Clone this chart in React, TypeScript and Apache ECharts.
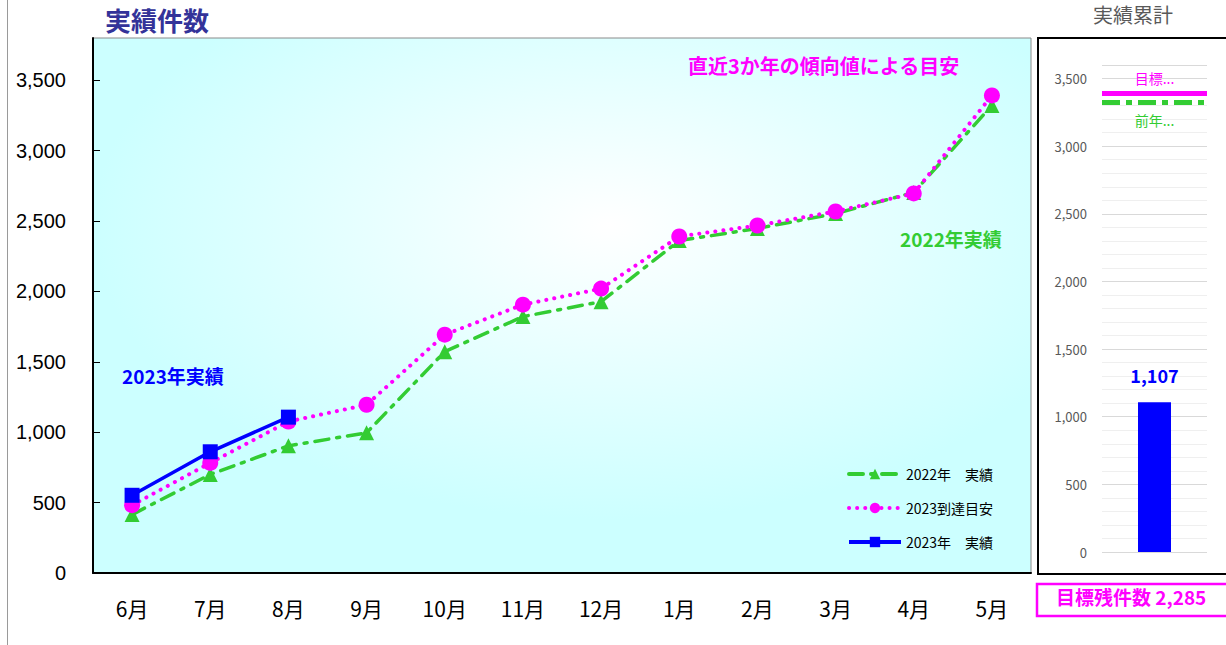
import React, { useEffect, useRef } from "react";
import * as echarts from "echarts";

const months = ["6月", "7月", "8月", "9月", "10月", "11月", "12月", "1月", "2月", "3月", "4月", "5月"];
const actual2022 = [415, 700, 903, 996, 1572, 1821, 1927, 2361, 2447, 2553, 2703, 3321];
const target2023 = [482, 782, 1076, 1195, 1693, 1906, 2020, 2390, 2468, 2568, 2696, 3392];
const actual2023 = [552, 861, 1107];
const cumulativeCategory = ["累計"];
const cumulativeActual = [1107];
const cumulativeTarget = 3392;
const cumulativePrevYear = 3321;
const remaining = 2285;

const JP = "'Noto Sans CJK JP', 'Noto Sans', sans-serif";

export default function App() {
  const ref = useRef<HTMLDivElement>(null);
  useEffect(() => {
    document.body.style.margin = "0";
    const chart = echarts.init(ref.current!, null, { renderer: "svg" });
    const option: any = {
      animation: false,
      backgroundColor: "#ffffff",
      textStyle: { fontFamily: JP },
      legend: {
        orient: "vertical",
        left: 842,
        top: 462,
        itemWidth: 52,
        itemHeight: 13,
        itemGap: 20,
        lineStyle: { width: 4 },
        textStyle: { fontSize: 14, color: "#000", fontFamily: JP },
        data: ["2022年　実績", "2023到達目安", "2023年　実績"],
      },
      grid: [
        {
          left: 93,
          top: 38,
          width: 938,
          height: 535,
          show: true,
          borderColor: "#8a8a8a",
          borderWidth: 1,
          backgroundColor: new echarts.graphic.RadialGradient(0.55, 0.35, 0.55, [
            { offset: 0, color: "#ffffff" },
            { offset: 1, color: "#ccffff" },
          ]),
        },
        { left: 1102, top: 65, width: 105, height: 487 },
      ],
      xAxis: [
        {
          type: "category",
          gridIndex: 0,
          data: months,
          boundaryGap: true,
          axisLine: { lineStyle: { color: "#000", width: 2 } },
          axisTick: { inside: true, length: 7, lineStyle: { color: "#000" } },
          axisLabel: { fontSize: 21, color: "#000", margin: 24, fontFamily: JP },
        },
        {
          type: "category",
          gridIndex: 1,
          data: cumulativeCategory,
          axisLine: { show: false },
          axisTick: { show: false },
          axisLabel: { show: false },
        },
      ],
      yAxis: [
        {
          type: "value",
          gridIndex: 0,
          min: 0,
          max: 3800,
          interval: 500,
          axisLine: { show: true, lineStyle: { color: "#000", width: 2 } },
          axisTick: { show: true, inside: true, length: 7, lineStyle: { color: "#000" } },
          splitLine: { show: false },
          axisLabel: {
            fontSize: 20,
            color: "#000",
            margin: 27,
            showMaxLabel: false,
            fontFamily: "'Liberation Sans', Arial, sans-serif",
            formatter: (v: number) => v.toLocaleString("en-US"),
          },
        },
        {
          type: "value",
          gridIndex: 1,
          min: 0,
          max: 3600,
          interval: 500,
          axisLine: { show: false },
          axisTick: { show: false },
          splitLine: { show: true, lineStyle: { color: "#d9d9d9", width: 1 } },
          minorTick: { show: false, splitNumber: 5 },
          minorSplitLine: { show: true, lineStyle: { color: "#efefef", width: 1 } },
          axisLabel: {
            fontSize: 13,
            color: "#595959",
            margin: 15,
            showMaxLabel: false,
            formatter: (v: number) => v.toLocaleString("en-US"),
          },
        },
      ],
      series: [
        {
          name: "2022年　実績",
          type: "line",
          xAxisIndex: 0,
          yAxisIndex: 0,
          data: actual2022,
          symbol: "triangle",
          symbolSize: 15,
          itemStyle: { color: "#33cc33" },
          lineStyle: { color: "#33cc33", width: 3.5, type: [14, 8, 3, 8], cap: "round" },
          z: 2,
        },
        {
          name: "2023到達目安",
          type: "line",
          xAxisIndex: 0,
          yAxisIndex: 0,
          data: target2023,
          symbol: "circle",
          symbolSize: 16,
          itemStyle: { color: "#ff00ff" },
          lineStyle: { color: "#ff00ff", width: 4, type: [0.1, 8], cap: "round" },
          z: 3,
        },
        {
          name: "2023年　実績",
          type: "line",
          xAxisIndex: 0,
          yAxisIndex: 0,
          data: actual2023,
          symbol: "rect",
          symbolSize: 15,
          itemStyle: { color: "#0000ff" },
          lineStyle: { color: "#0000ff", width: 3.5 },
          z: 4,
        },
        {
          name: "累計",
          type: "bar",
          xAxisIndex: 1,
          yAxisIndex: 1,
          data: cumulativeActual,
          barWidth: 33,
          itemStyle: { color: "#0000ff" },
          label: {
            show: true,
            position: "top",
            distance: 18,
            fontSize: 18,
            fontWeight: "bold",
            color: "#0000ff",
            formatter: (p: any) => Number(p.value).toLocaleString("en-US"),
          },
          markLine: {
            silent: true,
            symbol: "none",
            animation: false,
            data: [
              {
                yAxis: cumulativeTarget,
                lineStyle: { color: "#ff00ff", width: 5, type: "solid" },
                label: {
                  formatter: "目標...",
                  position: "insideMiddleTop",
                  distance: 8,
                  color: "#ff00ff",
                  fontSize: 14,
                },
              },
              {
                yAxis: cumulativePrevYear,
                lineStyle: { color: "#33cc33", width: 5, type: [18, 6, 6, 6] },
                label: {
                  formatter: "前年...",
                  position: "insideMiddleBottom",
                  distance: 10,
                  color: "#33cc33",
                  fontSize: 14,
                },
              },
            ],
          },
        },
      ],
      graphic: [
        {
          type: "line",
          shape: { x1: 7.5, y1: 0, x2: 7.5, y2: 645 },
          style: { stroke: "#9a9a9a", lineWidth: 1 },
          silent: true,
        },
        {
          type: "text",
          left: 105,
          top: 6,
          style: { text: "実績件数", font: `bold 26px ${JP}`, fill: "#333399" },
        },
        {
          type: "text",
          left: 688,
          top: 55,
          style: { text: "直近3か年の傾向値による目安", font: `bold 20px ${JP}`, fill: "#ff00ff" },
        },
        {
          type: "text",
          left: 900,
          top: 229,
          style: { text: "2022年実績", font: `bold 19px ${JP}`, fill: "#33cc33" },
        },
        {
          type: "text",
          left: 122,
          top: 366,
          style: { text: "2023年実績", font: `bold 19px ${JP}`, fill: "#0000ff" },
        },
        {
          type: "rect",
          shape: { x: 1038, y: 38, width: 200, height: 536 },
          style: { fill: "none", stroke: "#000", lineWidth: 2 },
          silent: true,
        },
        {
          type: "text",
          left: 1093,
          top: 4,
          style: { text: "実績累計", font: `20px ${JP}`, fill: "#595959" },
        },
        {
          type: "rect",
          shape: { x: 1037, y: 584, width: 195, height: 32 },
          style: { fill: "#ffffff", stroke: "#ff00ff", lineWidth: 2.5 },
          silent: true,
        },
        {
          type: "text",
          left: 1056,
          top: 587,
          style: {
            text: "目標残件数 " + remaining.toLocaleString("en-US"),
            font: `bold 19px ${JP}`,
            fill: "#ff00ff",
          },
        },
      ],
    };
    chart.setOption(option);
    return () => chart.dispose();
  }, []);
  return <div ref={ref} style={{ width: 1226, height: 645 }} />;
}
